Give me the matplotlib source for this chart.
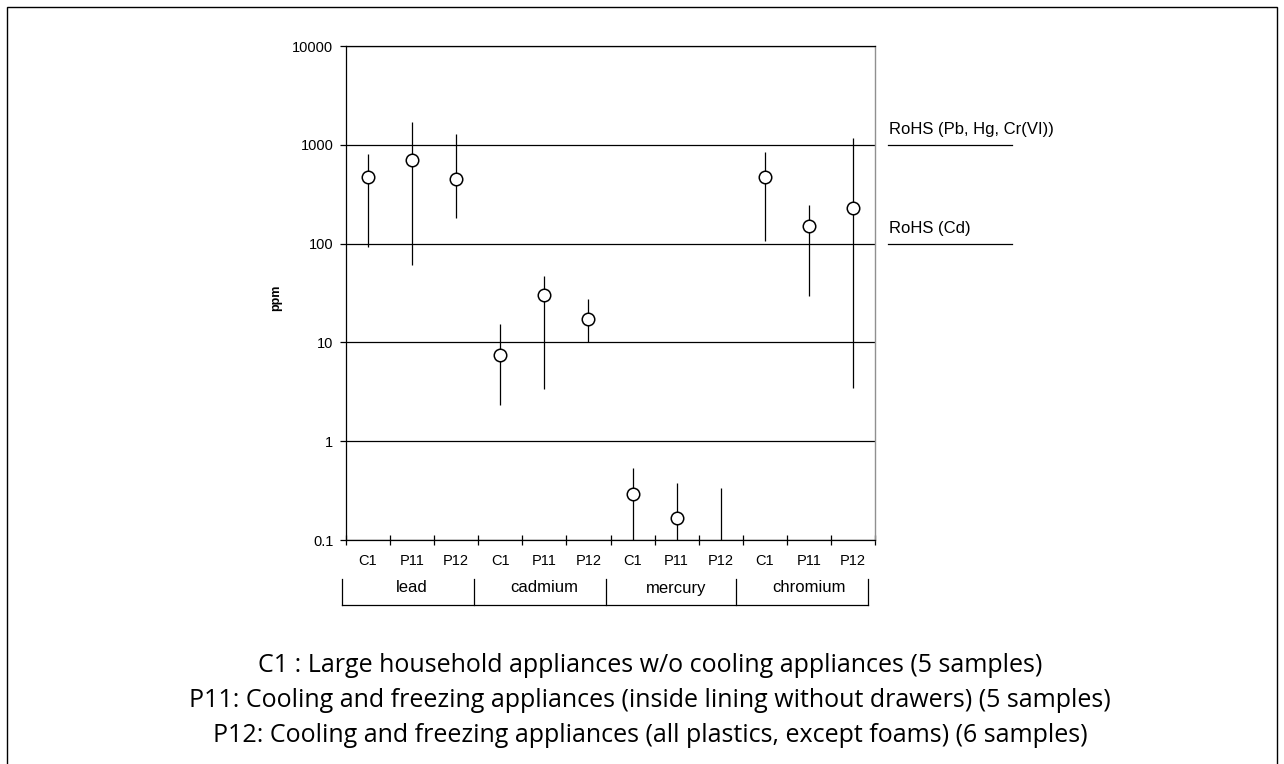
import numpy as np
import matplotlib
matplotlib.use("Agg")
import matplotlib.pyplot as plt
from matplotlib.patches import Rectangle

plt.rcParams['font.family'] = ['Liberation Sans', 'DejaVu Sans']

sub_labels = ["C1", "P11", "P12"] * 4
groups = ["lead", "cadmium", "mercury", "chromium"]
means = [472, 707, 454, 7.4, 30, 17.1, 0.294, 0.167, np.nan, 469, 152, 227]
upper = [807, 1700, 1295, 15.4, 46.7, 27.3, 0.532, 0.375, 0.334, 846, 246, 1180]
lower = [93, 60.7, 180, 2.32, 3.35, 10.1, 0.01, 0.01, 0.01, 106, 29.3, 3.48]
y_ticks = [0.1, 1, 10, 100, 1000, 10000]
y_tick_labels = ["0.1", "1", "10", "100", "1000", "10000"]
rohs_levels = [1000, 100]
rohs_labels = ["RoHS (Pb, Hg, Cr(VI))", "RoHS (Cd)"]
captions = [
    "C1 : Large household appliances w/o cooling appliances (5 samples)",
    "P11: Cooling and freezing appliances (inside lining without drawers) (5 samples)",
    "P12: Cooling and freezing appliances (all plastics, except foams) (6 samples)",
]

W, H = 1284, 764
fig = plt.figure(figsize=(W / 100, H / 100), dpi=100)
fig.patch.set_facecolor("white")

# outer border
fig.add_artist(Rectangle((7 / W, -0.01), (1277 - 7) / W, (H - 7) / H + 0.01,
                         transform=fig.transFigure, fill=False, edgecolor="black", lw=1.0))

ax = fig.add_axes([346 / W, (H - 540) / H, 529 / W, 494 / H])
x = np.arange(len(means))
ax.set_yscale("log")
ax.set_ylim(0.1, 10000)
ax.set_xlim(-0.5, len(means) - 0.5)

for yv in y_ticks:
    ax.axhline(yv, color="black", lw=0.9, zorder=1)

ax.vlines(x, lower, upper, color="black", lw=0.9, zorder=2)
ax.plot(x, means, linestyle="none", marker="o", markersize=9,
        markerfacecolor="white", markeredgecolor="black", markeredgewidth=1.1, zorder=3)

ax.set_yticks(y_ticks)
ax.set_yticklabels(y_tick_labels)
ax.yaxis.set_minor_locator(matplotlib.ticker.NullLocator())
ax.tick_params(axis="y", which="major", direction="out", length=4, width=0.9,
               labelsize=10.5, pad=5)

ax.set_xticks(np.arange(-0.5, len(means), 1.0))
ax.set_xticklabels([])
ax.set_xticks(x, minor=True)
ax.set_xticklabels(sub_labels, minor=True)
ax.tick_params(axis="x", which="major", direction="inout", length=7, width=0.9)
ax.tick_params(axis="x", which="minor", length=0, labelsize=10.5, pad=10)

for s in ["left", "bottom"]:
    ax.spines[s].set_linewidth(0.9)
ax.spines["right"].set_color("#909090")
ax.spines["right"].set_linewidth(1.0)
ax.spines["top"].set_linewidth(0.9)

# group labels and brackets
tr = matplotlib.transforms.blended_transform_factory(ax.transData, fig.transFigure)
y_top = (H - 579) / H
y_bot = (H - 605) / H
bounds = [-0.6, 2.4, 5.4, 8.35, 11.35]
for b in bounds:
    fig.add_artist(plt.Line2D([b, b], [y_bot, y_top], transform=tr, color="black", lw=0.9))
fig.add_artist(plt.Line2D([bounds[0], bounds[-1]], [y_bot, y_bot], transform=tr, color="black", lw=0.9))
for i, g in enumerate(groups):
    fig.text(3 * i + 1, (H - 588) / H, g, transform=tr, ha="center", va="center", fontsize=12)

# RoHS limit lines
trr = matplotlib.transforms.blended_transform_factory(fig.transFigure, ax.transData)
for lv, lab in zip(rohs_levels, rohs_labels):
    ln = plt.Line2D([888 / W, 1012 / W], [lv, lv], transform=trr, color="black", lw=0.9)
    ln.set_clip_on(False)
    fig.add_artist(ln)
    fig.text(889 / W, lv * 1.2, lab, transform=trr, ha="left", va="bottom", fontsize=12)

fig.text(276 / W, (H - 298) / H, "ppm", rotation=90, ha="center", va="center",
         fontsize=9, fontweight="bold")

for i, c in enumerate(captions):
    fig.text(650 / W, (H - 665 - 35.5 * i) / H, c, ha="center", va="center", fontsize=18,
             family=["Open Sans", "DejaVu Sans"])

fig.savefig("out.png", dpi=100, facecolor="white")
